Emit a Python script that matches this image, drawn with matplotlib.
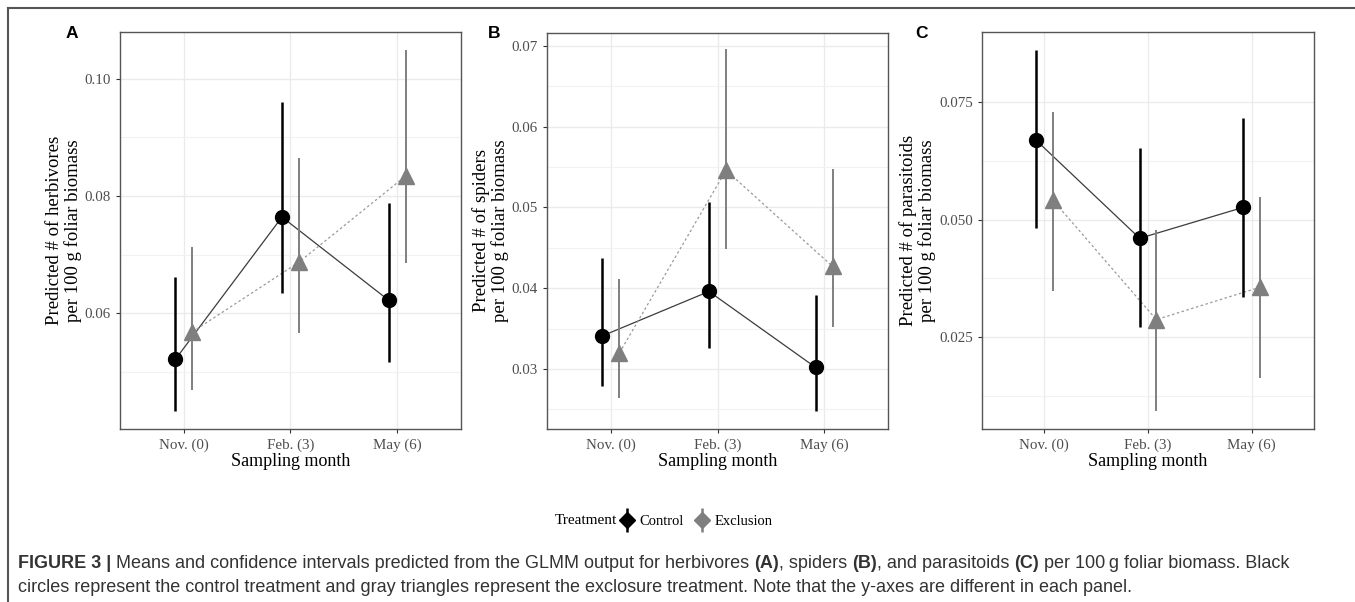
import numpy as np
import matplotlib
matplotlib.use("Agg")
import matplotlib.pyplot as plt
from matplotlib.lines import Line2D

plt.rcParams['font.family'] = ['Liberation Serif', 'DejaVu Serif']

months = ["Nov. (0)", "Feb. (3)", "May (6)"]
treatments = ["Control", "Exclusion"]

# panel A: herbivores
herb_ctrl = [0.0521, 0.0764, 0.0622]
herb_ctrl_lo = [0.0432, 0.0634, 0.0516]
herb_ctrl_hi = [0.0662, 0.0961, 0.0788]
herb_excl = [0.0568, 0.0687, 0.0834]
herb_excl_lo = [0.0468, 0.0566, 0.0685]
herb_excl_hi = [0.0713, 0.0865, 0.1049]

# panel B: spiders
spid_ctrl = [0.0341, 0.0396, 0.0302]
spid_ctrl_lo = [0.0279, 0.0326, 0.0248]
spid_ctrl_hi = [0.0438, 0.0507, 0.0392]
spid_excl = [0.0320, 0.0546, 0.0427]
spid_excl_lo = [0.0264, 0.0449, 0.0352]
spid_excl_hi = [0.0411, 0.0696, 0.0548]

# panel C: parasitoids
para_ctrl = [0.0669, 0.0460, 0.0526]
para_ctrl_lo = [0.0481, 0.0271, 0.0336]
para_ctrl_hi = [0.0861, 0.0652, 0.0716]
para_excl = [0.0542, 0.0287, 0.0356]
para_excl_lo = [0.0348, 0.0093, 0.0163]
para_excl_hi = [0.0729, 0.0477, 0.0547]

panel_letters = ["A", "B", "C"]
ylabels = ["Predicted # of herbivores\nper 100 g foliar biomass",
           "Predicted # of spiders\nper 100 g foliar biomass",
           "Predicted # of parasitoids\nper 100 g foliar biomass"]
yticks_major = [[0.06, 0.08, 0.10], [0.03, 0.04, 0.05, 0.06, 0.07], [0.025, 0.050, 0.075]]
yticks_minor = [[0.05, 0.07, 0.09], [0.025, 0.035, 0.045, 0.055, 0.065], [0.0125, 0.0375, 0.0625]]
ytick_fmt = ["%.2f", "%.2f", "%.3f"]
ylims = [(0.0402, 0.108), (0.02257, 0.0716), (0.00543, 0.0899)]

data = [
    (herb_ctrl, herb_ctrl_lo, herb_ctrl_hi, herb_excl, herb_excl_lo, herb_excl_hi),
    (spid_ctrl, spid_ctrl_lo, spid_ctrl_hi, spid_excl, spid_excl_lo, spid_excl_hi),
    (para_ctrl, para_ctrl_lo, para_ctrl_hi, para_excl, para_excl_lo, para_excl_hi),
]

W, H = 1355, 602
fig = plt.figure(figsize=(W / 100, H / 100), dpi=100)

# axes boxes in pixels (left, right, top, bottom)
boxes = [(120, 461, 32, 429), (547, 888, 33, 429), (982, 1314, 32, 429)]
letter_x = [66, 488, 915]
dodge = 0.08
GREY = "#7f7f7f"

for i in range(3):
    l, r, t, b = boxes[i]
    ax = fig.add_axes([l / W, 1 - b / H, (r - l) / W, (b - t) / H])
    c, clo, chi, e, elo, ehi = [np.array(v) for v in data[i]]
    x = np.arange(3)
    xc = x - dodge
    xe = x + dodge
    ax.plot(xc, c, color="#3c3c3c", lw=0.9, zorder=3)
    ax.plot(xe, e, color="#9a9a9a", lw=0.9, ls=(0, (2, 2)), zorder=3)
    ax.errorbar(xc, c, yerr=[c - clo, chi - c], fmt="o", color="black",
                ms=10, elinewidth=1.8, capsize=0, zorder=5)
    ax.errorbar(xe, e, yerr=[e - elo, ehi - e], fmt="^", color=GREY,
                ms=11.5, elinewidth=1.4, capsize=0, zorder=4)
    ax.set_xlim(-0.6, 2.6)
    ax.set_ylim(*ylims[i])
    ax.set_xticks(x)
    ax.set_xticklabels(months)
    ax.set_yticks(yticks_major[i])
    ax.set_yticklabels([ytick_fmt[i] % v for v in yticks_major[i]])
    ax.set_yticks(yticks_minor[i], minor=True)
    ax.grid(True, which="major", color="#ebebeb", lw=1.0, zorder=0)
    ax.grid(True, which="minor", axis="y", color="#f2f2f2", lw=0.8, zorder=0)
    ax.set_axisbelow(True)
    ax.tick_params(axis="both", which="major", colors="#333333", labelcolor="#4d4d4d",
                   labelsize=10.8, length=3, width=0.8)
    ax.tick_params(axis="y", which="minor", length=0)
    for s in ax.spines.values():
        s.set_color("#555555")
        s.set_linewidth(1.0)
    ax.set_xlabel("Sampling month", fontsize=13, labelpad=1)
    ax.set_ylabel(ylabels[i], fontsize=13.5, labelpad=2, linespacing=1.1)
    fig.text(letter_x[i] / W, 1 - 33 / H, panel_letters[i], family="Liberation Sans",
             fontweight="bold", fontsize=12.5, va="center", ha="left")

# legend: point + vertical bar keys
def key(marker, color, ms, lw):
    bar = Line2D([], [], ls="none", marker="|", ms=17, mew=lw, color=color)
    pt = Line2D([], [], ls="none", marker=marker, ms=ms, color=color)
    return (bar, pt)

fig.text(555 / W, 1 - 521 / H, "Treatment", fontsize=11, va="center", ha="left")
fig.legend([key("D", "black", 8, 1.8), key("D", GREY, 8, 1.8)], treatments,
           loc="center left", bbox_to_anchor=(618 / W, 1 - 521 / H),
           ncol=2, frameon=False, fontsize=10.5, handlelength=1.2, handletextpad=0.3,
           columnspacing=0.6, borderpad=0, borderaxespad=0)

# outer frame
fig.add_artist(Line2D([8 / W, 1], [1 - 8 / H, 1 - 8 / H], color="#555555", lw=1.5))
fig.add_artist(Line2D([8 / W, 8 / W], [0, 1 - 8 / H], color="#555555", lw=1.5))

# caption with mixed bold runs
caption = [
    [("FIGURE 3 |", True, False), ("Means and confidence intervals predicted from the GLMM output for herbivores", False, True),
     ("(A)", True, True), (", spiders", False, False), ("(B)", True, True),
     (", and parasitoids", False, False), ("(C)", True, True),
     ("per 100\u2009g foliar biomass. Black", False, True)],
    [("circles represent the control treatment and gray triangles represent the exclosure treatment. Note that the y-axes are different in each panel.", False, False)],
]
cap_y = [563, 587]
renderer = fig.canvas.get_renderer()
cap_kw = dict(family=["Liberation Sans", "DejaVu Sans"], fontsize=13, color="#333333", va="center", ha="left")
tmp = fig.text(0, 0, "a a", **cap_kw)
w2 = tmp.get_window_extent(renderer).width
tmp.set_text("aa")
space_w = w2 - tmp.get_window_extent(renderer).width
tmp.remove()
for line, yy in zip(caption, cap_y):
    xp = 18
    for txt, bold, sp in line:
        if sp:
            xp += space_w
        t = fig.text(xp / W, 1 - yy / H, txt, fontweight="bold" if bold else "normal", **cap_kw)
        xp += t.get_window_extent(renderer).width

fig.savefig("out.png", dpi=100)
